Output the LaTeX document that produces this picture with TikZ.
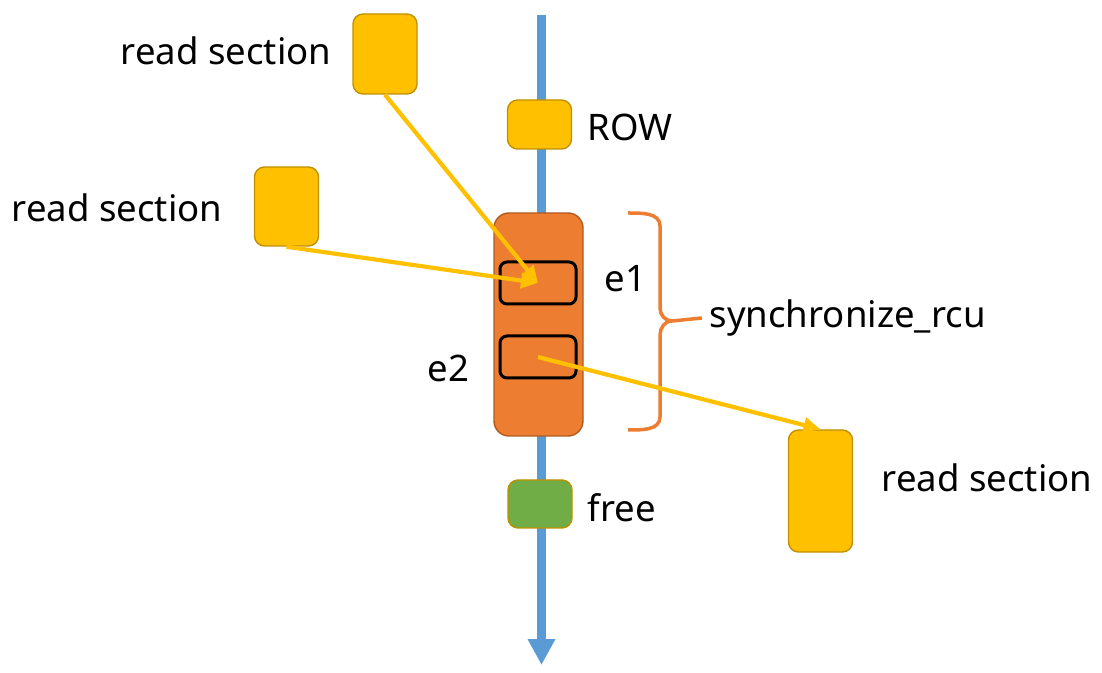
\documentclass[tikz,border=0pt]{standalone}
\usepackage{fontspec}
\setmainfont{Noto Sans}
\usetikzlibrary{arrows.meta}

\definecolor{rcuyellow}{HTML}{FFC000}
\definecolor{rcuyedge}{HTML}{BF9000}
\definecolor{rcuorange}{HTML}{ED7D31}
\definecolor{rcuoedge}{HTML}{AE5A21}
\definecolor{rcugreen}{HTML}{70AD47}
\definecolor{rcublue}{HTML}{5B9BD5}

\begin{document}
\begin{tikzpicture}[
    rdbox/.style={draw=rcuyedge, fill=rcuyellow, rounded corners=0.1cm,
                  minimum width=0.64cm, inner sep=0pt, line width=0.4pt},
    gpbox/.style={draw=rcuoedge, fill=rcuorange, rounded corners=0.15cm,
                  minimum width=0.89cm, minimum height=2.23cm, inner sep=0pt},
    elem/.style={draw=black, line width=0.03cm, rounded corners=0.07cm,
                 minimum width=0.76cm, minimum height=0.42cm, inner sep=0pt},
    lbl/.style={inner sep=0pt, font=\fontsize{10.4}{12}\selectfont},
    rdarrow/.style={rcuyellow, line width=0.042cm,
                    -{Triangle[length=0.17cm,width=0.15cm]}}
  ]
  \useasboundingbox (0,0) rectangle (11.02,-6.73);
  % time line
  \coordinate (start) at (5.415,-0.15);
  \coordinate (end) at (5.415,-6.65);
  \draw[rcublue, line width=0.09cm, -{Triangle[length=0.26cm,width=0.26cm]}]
        (start) -- (end);
  % boxes on the line
  \node[rdbox, minimum height=0.49cm] (row) at (5.395,-1.245) {};
  \node[gpbox] (gp) at (5.385,-3.245) {};
  \node[elem] (e1) at (5.38,-2.83) {};
  \node[elem] (e2) at (5.38,-3.57) {};
  \node[rdbox, minimum height=0.48cm, fill=rcugreen] (free) at (5.40,-5.04) {};
  % readers
  \node[rdbox, minimum height=0.80cm] (rd1) at (3.85,-0.54) {};
  \node[rdbox, minimum height=0.79cm] (rd2) at (2.865,-2.065) {};
  \node[rdbox, minimum height=1.22cm] (rd3) at (8.205,-4.91) {};
  % labels
  \node[lbl, anchor=east] (l1) at (3.32,-0.51) {read section};
  \node[lbl, anchor=east] (l2) at (2.23,-2.08) {read section};
  \node[lbl, anchor=west] (l3) at (8.81,-4.78) {read section};
  \node[lbl, anchor=west] (lrow) at (5.87,-1.27) {ROW};
  \node[lbl, anchor=west] (lfree) at (5.87,-5.08) {free};
  \node[lbl, anchor=west] (le1) at (6.04,-2.79) {e1};
  \node[lbl, anchor=east] (le2) at (4.70,-3.68) {e2};
  \node[lbl, anchor=west, inner xsep=0.07cm] (sync) at (7.02,-3.18) {synchronize\_rcu};
  % brace
  \draw[rcuorange, line width=0.035cm]
    (6.28,-2.13) to[out=0,in=90] (6.60,-2.26) -- (6.60,-3.08)
    to[out=-90,in=180] (6.72,-3.21) -- (sync.west);
  \draw[rcuorange, line width=0.035cm]
    (6.28,-4.30) to[out=0,in=-90] (6.60,-4.17) -- (6.60,-3.35)
    to[out=90,in=180] (6.72,-3.21);
  % readers meeting the grace period
  \draw[rdarrow] (rd1.south) -- (e1.center);
  \draw[rdarrow] (rd2.south) -- (e1.center);
  \draw[rdarrow] (e2.center) -- (rd3.north);
\end{tikzpicture}
\end{document}
